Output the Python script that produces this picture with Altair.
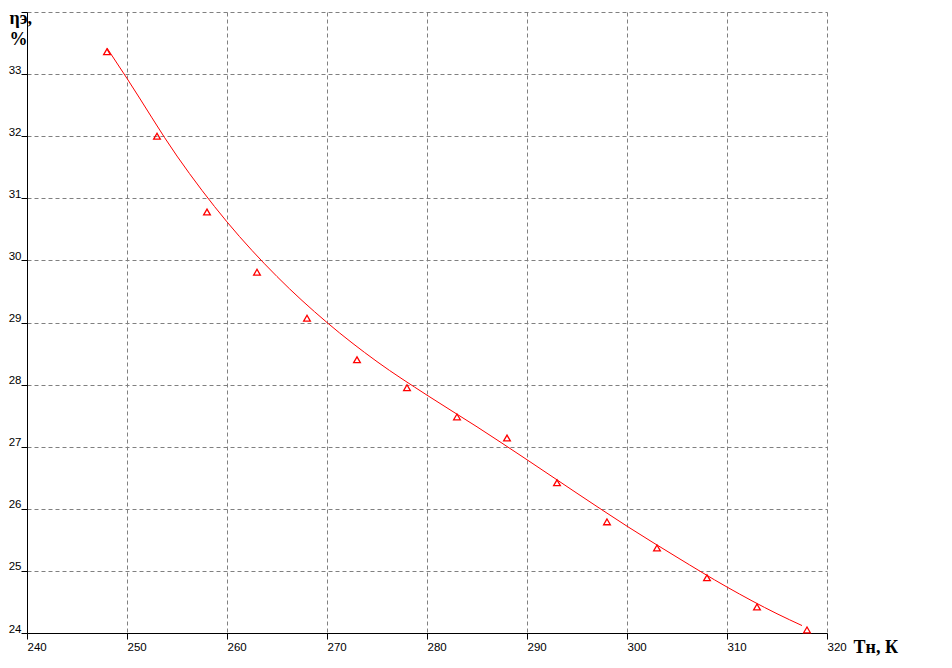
import altair as alt
import pandas as pd

# Measured points
temps = [248, 253, 258, 263, 268, 273, 278, 283, 288, 293, 298, 303, 308, 313, 318]
eff = [33.36, 32.00, 30.78, 29.81, 29.07, 28.40, 27.95, 27.48, 27.14, 26.42,
       25.79, 25.37, 24.89, 24.42, 24.05]

# Fitted curve
curve_t = [248, 250, 255, 260, 265, 270, 275, 280, 285, 290, 295, 300, 305, 310, 315, 317.5]
curve_e = [33.42, 32.93, 31.68, 30.62, 29.74, 29.00, 28.37, 27.83, 27.32, 26.79,
           26.25, 25.72, 25.22, 24.74, 24.31, 24.12]

x_ticks = [240, 250, 260, 270, 280, 290, 300, 310, 320]
y_ticks = [24, 25, 26, 27, 28, 29, 30, 31, 32, 33, 34]

pts = pd.DataFrame({"T": temps, "eta": eff})
crv = pd.DataFrame({"T": curve_t, "eta": curve_e})

x_scale = alt.Scale(domain=[240, 320], nice=False, zero=False)
y_scale = alt.Scale(domain=[24, 34], nice=False, zero=False)

x_axis = alt.Axis(
    values=x_ticks, format="d", title="Тн, К", grid=True, gridColor="#808080", gridDash=[4, 3],
    gridWidth=1, domainColor="black", domainWidth=1, tickColor="black", tickSize=6,
    labelAlign="left", labelPadding=2, labelFont="Liberation Sans", labelFontSize=11.5,
    labelColor="black", titleFont="Liberation Serif", titleFontSize=18, titleFontWeight="bold",
    titleColor="black", titleAngle=0, titleAlign="left", titleBaseline="alphabetic",
    titleX=826, titleY=19, labelFlush=False,
)
y_axis = alt.Axis(
    values=y_ticks, format="d", title=["ηэ,", "%"], grid=True, gridColor="#808080",
    gridDash=[4, 3], gridWidth=1, domainColor="black", domainWidth=1, tickColor="black",
    tickSize=6, labelBaseline="alphabetic", labelOffset=-1, labelPadding=0,
    labelFont="Liberation Sans", labelFontSize=11.5, labelColor="black",
    labelExpr="datum.value == 34 ? '' : datum.label",
    titleFont="Liberation Serif", titleFontSize=18, titleFontWeight="bold", titleColor="black",
    titleAngle=0, titleAlign="left", titleBaseline="alphabetic", titleX=-18, titleY=11,
    titleLineHeight=21, labelFlush=False,
)

line = alt.Chart(crv).mark_line(color="#ff0000", strokeWidth=1, interpolate="monotone").encode(
    x=alt.X("T:Q", scale=x_scale, axis=x_axis),
    y=alt.Y("eta:Q", scale=y_scale, axis=y_axis),
)
points = alt.Chart(pts).mark_point(
    shape="triangle-up", filled=False, color="#ff0000", strokeWidth=1.3, size=45, opacity=1
).encode(
    x=alt.X("T:Q", scale=x_scale),
    y=alt.Y("eta:Q", scale=y_scale),
)

chart = alt.layer(line, points).properties(
    width=800, height=621, background="white",
    autosize=alt.AutoSizeParams(type="none"),
    padding={"left": 19, "top": 4, "right": 90, "bottom": 30},
).configure_view(stroke=None)

chart.save("out.html", embed_options={"renderer": "svg", "actions": False})
